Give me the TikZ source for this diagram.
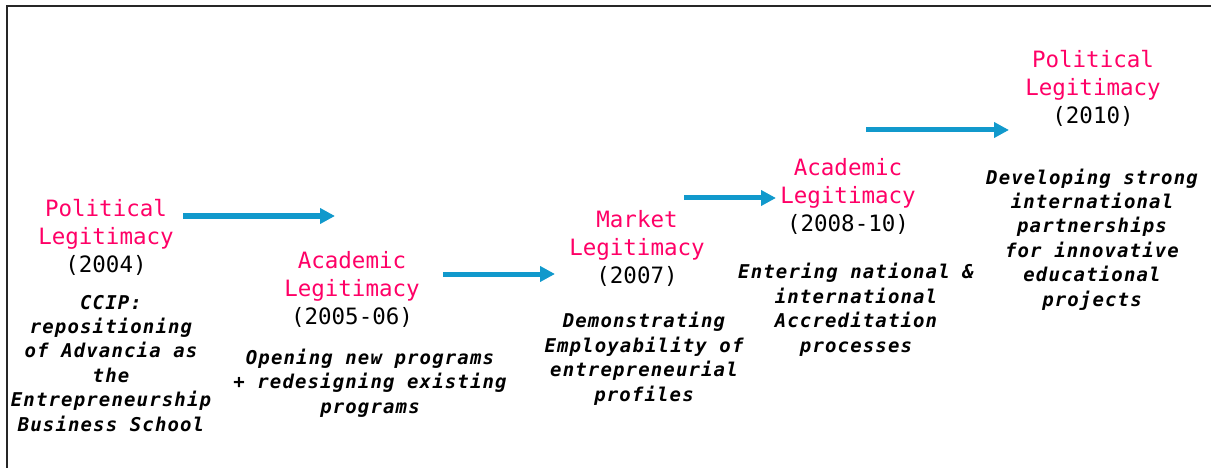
\documentclass[tikz,border=0pt]{standalone}
\usepackage{fontspec}
\usetikzlibrary{arrows.meta}
\newfontfamily\titlefont{DejaVu Sans Mono}
\newfontfamily\descfont{DejaVu Sans Mono}[LetterSpace=6]
\definecolor{legpink}{RGB}{255,0,102}
\definecolor{flowblue}{RGB}{17,153,204}

\begin{document}
\begin{tikzpicture}[x=1pt,y=-1pt,
    stage/.style={anchor=base,align=center,inner sep=0pt,font=\titlefont\fontsize{22.5}{28}\selectfont},
    desc/.style={anchor=base,align=center,inner sep=0pt,font=\descfont\bfseries\itshape\fontsize{19}{24.4}\selectfont},
    flow/.style={draw=flowblue,line width=5pt,-{Triangle[length=15pt,width=15pt]}}]
    \useasboundingbox (0,0) rectangle (1211,468);
    \draw[line width=1.2pt,black!85] (7,468) -- (7,6) -- (1211,6);
    % stages (base = last line)
    \node[stage] (pol1) at (106,272) {\textcolor{legpink}{Political}\\\textcolor{legpink}{Legitimacy}\\(2004)};
    \node[stage] (aca1) at (352,324) {\textcolor{legpink}{Academic}\\\textcolor{legpink}{Legitimacy}\\(2005-06)};
    \node[stage] (mkt) at (637,283) {\textcolor{legpink}{Market}\\\textcolor{legpink}{Legitimacy}\\(2007)};
    \node[stage] (aca2) at (848,231) {\textcolor{legpink}{Academic}\\\textcolor{legpink}{Legitimacy}\\(2008-10)};
    \node[stage] (pol2) at (1093,124) {\textcolor{legpink}{Political}\\\textcolor{legpink}{Legitimacy}\\(2010)};
    % descriptions
    \node[desc] (pol1d) at (111,431) {CCIP:\\repositioning\\of Advancia as\\the\\Entrepreneurship\\Business School};
    \node[desc] (aca1d) at (370,413) {Opening new programs\\+ redesigning existing\\programs};
    \node[desc] (mktd) at (644,401) {Demonstrating\\Employability of\\entrepreneurial\\profiles};
    \node[desc] (aca2d) at (856,352) {Entering national \&\\international\\Accreditation\\processes};
    \node[desc] (pol2d) at (1092,306) {Developing strong\\international\\partnerships\\for innovative\\educational\\projects};
    % arrows
    \coordinate (f1a) at (183,216); \coordinate (f1b) at (335,216);
    \coordinate (f2a) at (443,274); \coordinate (f2b) at (555,274);
    \coordinate (f3a) at (684,198); \coordinate (f3b) at (776,198);
    \coordinate (f4a) at (866,130); \coordinate (f4b) at (1009,130);
    \draw[flow] (f1a) -- (f1b);
    \draw[flow] (f2a) -- (f2b);
    \draw[flow] (f3a) -- (f3b);
    \draw[flow] (f4a) -- (f4b);
\end{tikzpicture}
\end{document}
